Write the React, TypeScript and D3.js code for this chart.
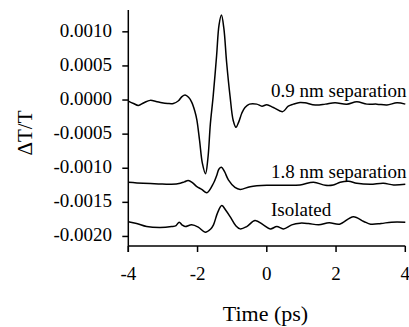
import React from "react";
import * as d3 from "d3";

// values in units of 1e-4 (ΔT/T)
const UNIT = 1e-4;

const series09: [number, number][] = [
  [-4, -0.15], [-3.85, -0.5], [-3.71, -0.8], [-3.55, -0.4], [-3.37, -0.05], [-3.2, -0.2],
  [-3.03, -0.4], [-2.86, -0.5], [-2.7, -0.5], [-2.55, -0.1], [-2.45, 0.5], [-2.36, 0.73],
  [-2.26, 0.4], [-2.17, -0.3], [-2.08, -1.6], [-2.02, -2.9], [-1.94, -6.0], [-1.86, -9.3],
  [-1.77, -10.8], [-1.7, -8.5], [-1.63, -3.5], [-1.55, 0.5], [-1.45, 6.5], [-1.38, 11.0],
  [-1.31, 12.45], [-1.24, 10.5], [-1.16, 5.5], [-1.06, 0.5], [-0.97, -3.0], [-0.89, -4.0],
  [-0.81, -3.2], [-0.72, -1.9], [-0.63, -1.1], [-0.5, -0.6], [-0.29, -0.6], [-0.14, -0.9],
  [0, -0.7], [0.19, -1.1], [0.46, -1.7], [0.62, -0.9], [0.77, -0.6], [0.96, -0.35],
  [1.1, -0.4], [1.4, -0.73], [1.69, -0.6], [1.97, -0.4], [2.31, -0.6], [2.6, -0.25],
  [2.89, -0.6], [3.18, -0.6], [3.47, -0.73], [3.76, -0.4], [4, -0.6],
];

const series18: [number, number][] = [
  [-4, -12.05], [-3.57, -12.2], [-3.13, -12.3], [-2.75, -12.35], [-2.5, -12.2], [-2.38, -12.0],
  [-2.27, -11.8], [-2.15, -12.1], [-2.02, -12.7], [-1.88, -13.1], [-1.73, -13.6], [-1.54, -12.2],
  [-1.45, -11.1], [-1.38, -10.1], [-1.31, -9.85], [-1.22, -10.5], [-1.11, -11.7], [-0.92, -12.8],
  [-0.77, -13.1], [-0.48, -12.7], [0, -12.5], [0.48, -12.5], [0.96, -12.45], [1.35, -12.05],
  [1.69, -12.5], [1.92, -12.45], [2.12, -12.05], [2.36, -11.9], [2.6, -12.2], [2.99, -12.35],
  [3.37, -12.2], [3.66, -12.45], [4, -12.35],
];

const seriesIso: [number, number][] = [
  [-4, -17.85], [-3.76, -18.1], [-3.47, -18.55], [-3.08, -18.7], [-2.75, -18.55], [-2.62, -18.4],
  [-2.53, -17.9], [-2.45, -18.3], [-2.36, -18.55], [-2.17, -18.3], [-1.98, -18.64], [-1.78, -19.37],
  [-1.62, -18.9], [-1.54, -18.3], [-1.42, -16.5], [-1.3, -15.48], [-1.18, -16.2], [-1.06, -17.09],
  [-0.9, -18.4], [-0.77, -18.89], [-0.58, -18.55], [-0.34, -17.67], [-0.1, -18.3], [0.1, -18.89],
  [0.29, -18.55], [0.48, -18.89], [0.72, -18.3], [0.96, -18.05], [1.2, -18.1], [1.5, -18.3],
  [1.8, -18.0], [2.1, -18.2], [2.5, -17.1], [2.8, -17.8], [3.0, -18.2], [3.3, -18.1],
  [3.6, -17.9], [4, -17.9],
];

const seriesLabels = ["0.9 nm separation", "1.8 nm separation", "Isolated"];
const labelValues = [0.00004, -0.001145, -0.0017];

const xTicks = [-4, -2, 0, 2, 4];
const xTickLabels = ["-4", "-2", "0", "2", "4"];
const yTicks = [0.001, 0.0005, 0, -0.0005, -0.001, -0.0015, -0.002];
const yTickLabels = ["0.0010", "0.0005", "0.0000", "-0.0005", "-0.0010", "-0.0015", "-0.0020"];

const W = 409;
const H = 327;
const FONT = { fontFamily: '"Liberation Serif"' };

export default function App() {
  const x = d3.scaleLinear().domain([-4, 4]).range([128.3, 405.3]);
  const y = d3.scaleLinear().domain([-0.00214, 0.00132]).range([246, 10]);
  const line = d3
    .line<[number, number]>()
    .x((d) => x(d[0]))
    .y((d) => y(d[1] * UNIT))
    .curve(d3.curveCatmullRom.alpha(0.5));

  const all = [series09, series18, seriesIso];
  const x0 = x.range()[0];
  const yb = y.range()[0];

  return (
    <svg width={W} height={H} style={{ position: "absolute", left: 0, top: 0, background: "#fff" }}>
      <rect width={W} height={H} fill="#fff" />
      {all.map((s, i) => (
        <path key={i} d={line(s) || ""} fill="none" stroke="#000" strokeWidth={1.5} />
      ))}
      {/* axes */}
      <line x1={x0} x2={x0} y1={y.range()[1]} y2={yb + 6} stroke="#000" strokeWidth={1.5} />
      <line x1={x0} x2={x.range()[1]} y1={yb} y2={yb} stroke="#000" strokeWidth={1.5} />
      {yTicks.map((v, i) => (
        <g key={"y" + i}>
          <line x1={x0 - 6} x2={x0} y1={y(v)} y2={y(v)} stroke="#000" strokeWidth={1.5} />
          <text x={112} y={y(v) + 5} textAnchor="end" style={FONT} fontSize={19} fill="#000">
            {yTickLabels[i]}
          </text>
        </g>
      ))}
      {xTicks.map((v, i) => (
        <g key={"x" + i}>
          <line x1={x(v)} x2={x(v)} y1={yb} y2={yb + 6} stroke="#000" strokeWidth={1.5} />
          <text x={x(v)} y={280} textAnchor="middle" style={FONT} fontSize={19} fill="#000">
            {xTickLabels[i]}
          </text>
        </g>
      ))}
      {seriesLabels.map((l, i) => (
        <text key={"l" + i} x={271} y={y(labelValues[i])} style={FONT} fontSize={19} fill="#000">
          {l}
        </text>
      ))}
      <text x={265.5} y={321} textAnchor="middle" style={FONT} fontSize={22} fill="#000">
        Time (ps)
      </text>
      <text
        transform={`translate(32,133) rotate(-90)`}
        textAnchor="middle"
        style={FONT}
        fontSize={21}
        fill="#000"
      >
        ΔT/T
      </text>
    </svg>
  );
}
